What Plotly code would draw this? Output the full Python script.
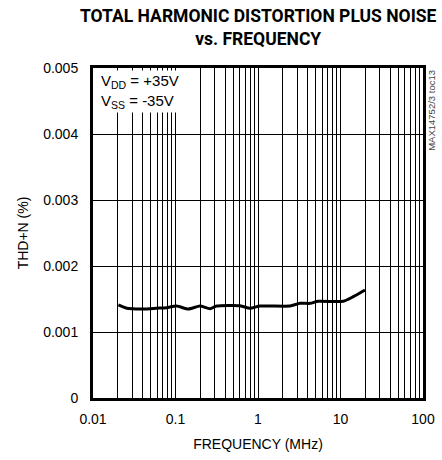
import plotly.graph_objects as go

freq_mhz = [0.0203, 0.0256, 0.0408, 0.059, 0.078, 0.103, 0.143, 0.198, 0.262, 0.316,
            0.605, 0.80, 1.057, 2.44, 3.23, 4.3, 5.38, 10.8, 14.3, 19.8]
thdn_pct = [0.00141, 0.00136, 0.001348, 0.00136, 0.001369, 0.001394, 0.001348, 0.001394,
            0.001353, 0.001394, 0.001399, 0.001359, 0.001394, 0.001394, 0.001434, 0.001434,
            0.001465, 0.001465, 0.001535, 0.001636]

x_tickvals = [0.01, 0.1, 1, 10, 100]
x_ticktext = ["0.01", "0.1", "1", "10", "100"]
y_tickvals = [0, 0.001, 0.002, 0.003, 0.004, 0.005]
y_ticktext = ["0", "0.001", "0.002", "0.003", "0.004", "0.005"]

FONT = "Liberation Sans, Arial, sans-serif"
TITLE_FONT = "Roboto, Liberation Sans, Arial, sans-serif"

fig = go.Figure()
fig.add_trace(go.Scatter(x=freq_mhz, y=thdn_pct, mode="lines",
                         line=dict(color="black", width=3, shape="spline", smoothing=0.6),
                         showlegend=False, hoverinfo="skip"))

fig.update_layout(
    width=442, height=460,
    margin=dict(l=93, r=19, t=68, b=62),
    paper_bgcolor="white", plot_bgcolor="white",
    font=dict(family=FONT, size=14, color="black"),
)

fig.update_xaxes(type="log", range=[-2, 2], automargin=False,
                 tickvals=x_tickvals, ticktext=x_ticktext,
                 showgrid=True, gridcolor="black", gridwidth=1,
                 minor=dict(dtick="D1", showgrid=True, gridcolor="black", gridwidth=1, ticks=""),
                 showline=True, linecolor="black", linewidth=3, mirror=True,
                 ticks="", zeroline=False, ticklabelstandoff=6,
                 tickfont=dict(size=14),
                 title=dict(text="FREQUENCY (MHz)", font=dict(size=14), standoff=14))
fig.update_yaxes(range=[0, 0.005], automargin=False,
                 tickvals=y_tickvals, ticktext=y_ticktext,
                 showgrid=True, gridcolor="black", gridwidth=1,
                 showline=True, linecolor="black", linewidth=3, mirror=True,
                 ticks="", zeroline=False, ticklabelstandoff=9,
                 tickfont=dict(size=14),
                 title=dict(text="THD+N (%)", font=dict(size=14), standoff=12))

fig.add_annotation(xref="paper", yref="paper", x=0.5, y=1.05, xanchor="center", yanchor="bottom",
                   text="<b>TOTAL HARMONIC DISTORTION PLUS NOISE<br>vs. FREQUENCY</b>",
                   showarrow=False, align="center",
                   font=dict(family=TITLE_FONT, size=17.5, color="black"))

fig.add_annotation(xref="paper", yref="paper", x=0.017, y=0.995, xanchor="left", yanchor="top",
                   text="V<sub>DD</sub> = +35V<br>V<sub>SS</sub> = -35V", showarrow=False,
                   align="left", bgcolor="white", font=dict(size=15), borderpad=1)

fig.add_annotation(xref="paper", yref="paper", x=1.027, y=0.873, xanchor="center", yanchor="middle",
                   text="MAX14752/3 toc13", textangle=-90, showarrow=False,
                   font=dict(size=9.5, color="#444444"))

fig.write_html("out.html", config={"displayModeBar": False},
               post_script="document.body.style.margin='0';")
